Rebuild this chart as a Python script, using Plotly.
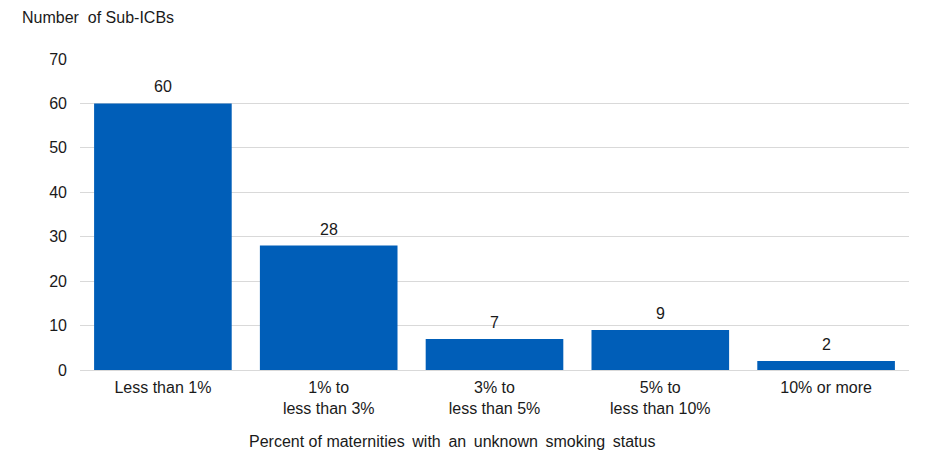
import plotly.graph_objects as go

categories = ["Less than 1%", "1% to<br>less than 3%", "3% to<br>less than 5%", "5% to<br>less than 10%", "10% or more"]
counts = [60, 28, 7, 9, 2]
y_ticks = [0, 10, 20, 30, 40, 50, 60, 70]

W, H = 931, 459
L, R, T, B = 80, 22, 59, 89
FONT = "Liberation Sans, Arial"
PW = W - L - R

fig = go.Figure(go.Bar(
    x=categories, y=counts,
    marker=dict(color="#005EB8", line=dict(width=0)),
    hoverinfo="x+y",
))

label_anns = [dict(
    x=c, y=v, xref="x", yref="y", text=str(v), showarrow=False,
    yanchor="bottom", yshift=6, font=dict(size=16, color="#1a1a1a"),
) for c, v in zip(categories, counts)]

x_title = "Percent of maternities\u2009 with\u2009 an\u2009 unknown\u2009 smoking\u2009 status"

fig.update_layout(
    width=W, height=H,
    margin=dict(l=L, r=R, t=T, b=B),
    paper_bgcolor="white", plot_bgcolor="white",
    bargap=0.17,
    font=dict(family=FONT, size=16, color="#1a1a1a"),
    showlegend=False,
    xaxis=dict(
        showgrid=False, showline=True, linecolor="#d9d9d9", linewidth=1,
        tickfont=dict(size=16), ticks="", ticklabelstandoff=3,
    ),
    yaxis=dict(
        range=[0, 70], tickvals=y_ticks, showgrid=True, gridcolor="#d9d9d9",
        gridwidth=1, zeroline=False, showline=False, ticks="",
        tickfont=dict(size=16), ticklabelstandoff=12,
    ),
    annotations=label_anns + [
        dict(
            text="Number  of Sub-ICBs", xref="paper", yref="paper",
            x=0, y=1, xanchor="left", yanchor="middle",
            xshift=20 - L, yshift=T - 17, showarrow=False,
            font=dict(size=16, color="#1a1a1a"),
        ),
        dict(
            text=x_title, xref="paper", yref="paper",
            x=(452 - L) / PW, y=0, xanchor="center", yanchor="middle",
            yshift=-71, showarrow=False,
            font=dict(size=16, color="#1a1a1a"),
        ),
    ],
)

fig.write_html("out.html")
